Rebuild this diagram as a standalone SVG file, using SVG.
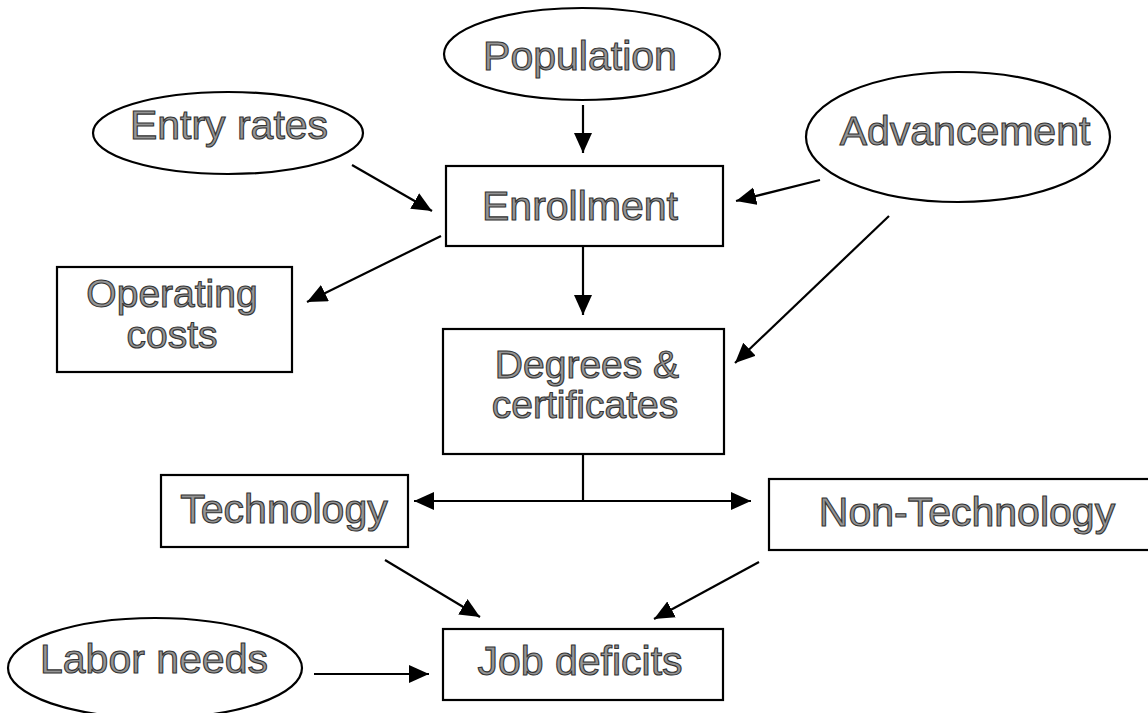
<svg xmlns="http://www.w3.org/2000/svg" width="1148" height="713" viewBox="0 0 1148 713">
<defs>
<marker id="ah" markerUnits="userSpaceOnUse" markerWidth="22" markerHeight="20" refX="20" refY="9" orient="auto-start-reverse">
<path d="M0,0 L20,9 L0,18 z" fill="#000"/>
</marker>
<style>
.box{fill:#fff;stroke:#000;stroke-width:2.2}
.lbl{font-family:"Liberation Sans",Arial,sans-serif;font-size:41px;fill:#959595;stroke:#333;stroke-width:1.1;text-anchor:middle}
.two{font-size:39px}
.c{stroke:#000;stroke-width:2.2;fill:none}
.a{marker-end:url(#ah)}
</style>
</defs>
<rect width="1148" height="713" fill="#fff"/>
<g id="population"><ellipse class="box" cx="582" cy="54" rx="138" ry="46"/><text class="lbl" x="580" y="70">Population</text></g>
<g id="entry-rates"><ellipse class="box" cx="228" cy="133" rx="135" ry="41"/><text class="lbl" x="229" y="139">Entry rates</text></g>
<g id="advancement"><ellipse class="box" cx="958" cy="137" rx="152" ry="65"/><text class="lbl" x="965" y="145">Advancement</text></g>
<g id="enrollment"><rect class="box" x="446" y="166" width="277" height="80"/><text class="lbl" x="580" y="220">Enrollment</text></g>
<g id="operating-costs"><rect class="box" x="57" y="267" width="235" height="105"/><text class="lbl two" x="172" y="307">Operating</text><text class="lbl two" x="172" y="348">costs</text></g>
<g id="degrees"><rect class="box" x="443" y="329" width="281" height="125"/><text class="lbl two" x="587" y="378">Degrees &amp;</text><text class="lbl two" x="585" y="418">certificates</text></g>
<g id="technology"><rect class="box" x="161" y="475" width="247" height="72"/><text class="lbl" x="284" y="523">Technology</text></g>
<g id="non-technology"><rect class="box" x="769" y="479" width="390" height="71"/><text class="lbl" x="967" y="526">Non-Technology</text></g>
<g id="job-deficits"><rect class="box" x="443" y="629" width="280" height="71"/><text class="lbl" x="580" y="675">Job deficits</text></g>
<g id="labor-needs"><ellipse class="box" cx="155" cy="668" rx="147" ry="50"/><text class="lbl" x="154" y="673">Labor needs</text></g>
<g id="connectors">
<line class="c a" x1="583" y1="105" x2="583" y2="153"/>
<line class="c a" x1="352" y1="165" x2="432" y2="211"/>
<line class="c a" x1="820" y1="180" x2="736" y2="201"/>
<line class="c a" x1="441" y1="236" x2="307" y2="302"/>
<line class="c a" x1="583" y1="247" x2="583" y2="315"/>
<line class="c a" x1="889" y1="216" x2="735" y2="363"/>
<line class="c" x1="583" y1="454" x2="583" y2="501"/>
<line class="c a" x1="414" y1="501" x2="751" y2="501" style="marker-start:url(#ah)"/>
<line class="c a" x1="385" y1="560" x2="480" y2="617"/>
<line class="c a" x1="759" y1="562" x2="654" y2="619"/>
<line class="c a" x1="314" y1="674" x2="429" y2="674"/>
</g>
</svg>
